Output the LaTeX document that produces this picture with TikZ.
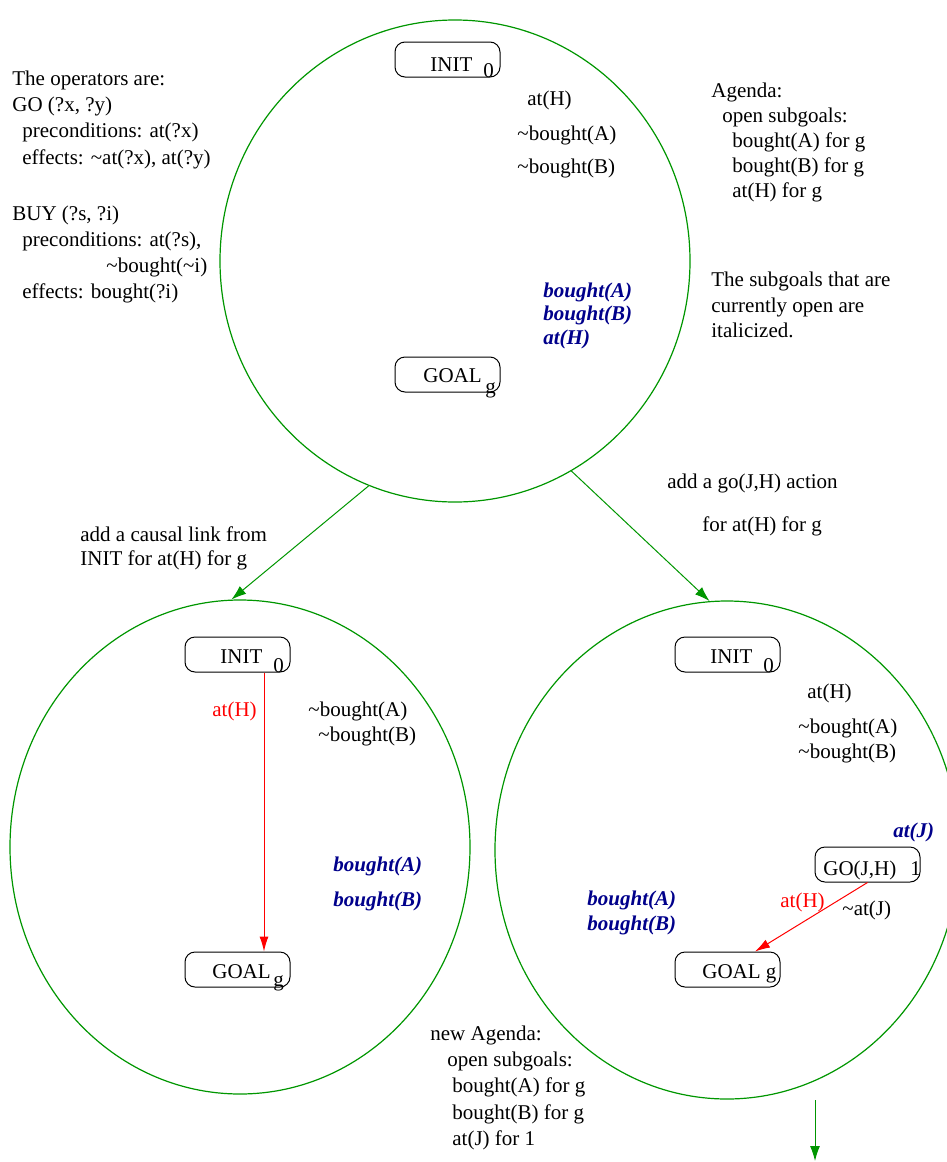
\documentclass[tikz,border=0pt]{standalone}
\usepackage{fontspec}
\setmainfont{Liberation Serif}
\usetikzlibrary{shapes.geometric,arrows.meta}
\definecolor{pgreen}{RGB}{0,150,0}
\definecolor{opengoal}{RGB}{0,0,139}
\newcommand\fsz{\fontsize{10.5pt}{13.1pt}\selectfont}
\newcommand\tl{\textasciitilde}
\begin{document}
\begin{tikzpicture}[x=0.5pt,y=-0.5pt,
  txt/.style={inner sep=0pt, anchor=base west, font=\fsz},
  blk/.style={inner sep=0pt, anchor=north west, align=left},
  opensub/.style={txt, text=opengoal, font=\fsz\bfseries\itshape},
  lnklabel/.style={txt, text=red},
  stepbox/.style={draw, rounded corners=5pt, minimum width=52.5pt,
    minimum height=17.5pt, inner sep=0pt, line width=0.5pt},
  plan/.style={draw=pgreen, ellipse, inner sep=0pt, line width=0.6pt},
  flow/.style={draw=pgreen, line width=0.5pt, -{Latex[length=7.5pt,width=5pt]}},
  link/.style={draw=red, line width=0.5pt, -{Latex[length=7.5pt,width=4.5pt]}}]
\useasboundingbox (0,0) rectangle (947,1162);

% ---- the three plans ----
\node[plan, minimum width=235pt, minimum height=241pt] (p0) at (455,261) {};
\node[plan, minimum width=230pt, minimum height=247pt] (p1) at (240,847) {};
\node[plan, minimum width=232pt, minimum height=249pt] (p2) at (727,850) {};

% ---- operator definitions ----
\node[blk, font=\fontsize{10.5pt}{13.1pt}\selectfont] (ops) at (12,66.7) {\strut The operators are:\\
GO (?x, ?y)\\
\hspace*{5pt}preconditions: at(?x)\\
\hspace*{5pt}effects: \tl at(?x), at(?y)\\[15pt]
BUY (?s, ?i)\\
\hspace*{5pt}preconditions: at(?s),\\
\hspace*{47pt}\tl bought(\tl i)\\
\hspace*{5pt}effects: bought(?i)};

% ---- agenda of the initial plan ----
\node[blk, font=\fontsize{10.5pt}{12.5pt}\selectfont] (agenda) at (711,79.5) {\strut Agenda:\\
\hspace*{5.5pt}open subgoals:\\
\hspace*{10.5pt}bought(A) for g\\
\hspace*{10.5pt}bought(B) for g\\
\hspace*{10.5pt}at(H) for g};
\node[blk, font=\fontsize{10.5pt}{12.75pt}\selectfont] (note) at (711,268.5) {\strut The subgoals that are\\
currently open are\\
italicized.};

% ---- initial plan ----
\node[stepbox] (init0) at (447.5,59.5) {};
\node[txt] (init0t) at (430,71) {INIT};
\node[txt] (init0s) at (483,77) {0};
\node[stepbox] (goal0) at (447.5,374.5) {};
\node[txt] (goal0t) at (423,382) {GOAL};
\node[txt] (goal0s) at (485,393) {g};
\node[txt] (p0a) at (527,105) {at(H)};
\node[txt] (p0b) at (517,140) {\tl bought(A)};
\node[txt] (p0c) at (517,173) {\tl bought(B)};
\node[opensub] (p0o1) at (543,297) {bought(A)};
\node[opensub] (p0o2) at (543,320.5) {bought(B)};
\node[opensub] (p0o3) at (543,344) {at(H)};

% ---- refinement arrows ----
\draw[flow] (p0.-111) -- (p1.92);
\draw[flow] (p0.-61) -- (p2.94);
\node[blk, font=\fontsize{10.5pt}{12pt}\selectfont] (ref1) at (80,524.2) {\strut add a causal link from\\
INIT for at(H) for g};
\node[txt] (ref2a) at (667,488) {add a go(J,H) action};
\node[txt] (ref2b) at (702,531) {for at(H) for g};

% ---- plan with a causal link ----
\node[stepbox] (init1) at (237.5,654.5) {};
\node[txt] (init1t) at (220,663) {INIT};
\node[txt] (init1s) at (273,672) {0};
\node[stepbox] (goal1) at (237.5,969.5) {};
\node[txt] (goal1t) at (212,978) {GOAL};
\node[txt] (goal1s) at (273,986) {g};
\draw[link] ([xshift=13.25pt]init1.south) -- ([xshift=13.25pt]goal1.north);
\node[lnklabel] (p1l) at (212,716) {at(H)};
\node[txt] (p1b) at (308,716) {\tl bought(A)};
\node[txt] (p1c) at (318,741) {\tl bought(B)};
\node[opensub] (p1o1) at (333,871) {bought(A)};
\node[opensub] (p1o2) at (333,906) {bought(B)};

% ---- plan with a GO step ----
\node[stepbox] (init2) at (727.5,654.5) {};
\node[txt] (init2t) at (710,663) {INIT};
\node[txt] (init2s) at (763,672) {0};
\node[stepbox] (goal2) at (727.5,969.5) {};
\node[txt] (goal2t) at (702,978) {GOAL g};
\node[stepbox] (go1) at (867.5,864.5) {};
\node[txt] (go1t) at (823,875) {GO(J,H)};
\node[txt] (go1s) at (910,875) {1};
\draw[link] (go1.south) -- ([xshift=13.75pt]goal2.north);
\node[txt] (p2a) at (807,698) {at(H)};
\node[txt] (p2b) at (798,733) {\tl bought(A)};
\node[txt] (p2c) at (798,758) {\tl bought(B)};
\node[opensub] (p2j) at (893,837) {at(J)};
\node[lnklabel] (p2l) at (780,907) {at(H)};
\node[txt] (p2d) at (842,915) {\tl at(J)};
\node[opensub] (p2o1) at (587,905) {bought(A)};
\node[opensub] (p2o2) at (587,930) {bought(B)};

% ---- new agenda ----
\node[blk, font=\fontsize{10.5pt}{13.125pt}\selectfont] (newagenda) at (430,1021.6) {\strut new Agenda:\\
\hspace*{8.5pt}open subgoals:\\
\hspace*{11pt}bought(A) for g\\
\hspace*{11pt}bought(B) for g\\
\hspace*{11pt}at(J) for 1};
\coordinate (cont) at (815,1100);
\coordinate (contend) at (815,1161);
\draw[flow] (cont) -- (contend);
\end{tikzpicture}
\end{document}
